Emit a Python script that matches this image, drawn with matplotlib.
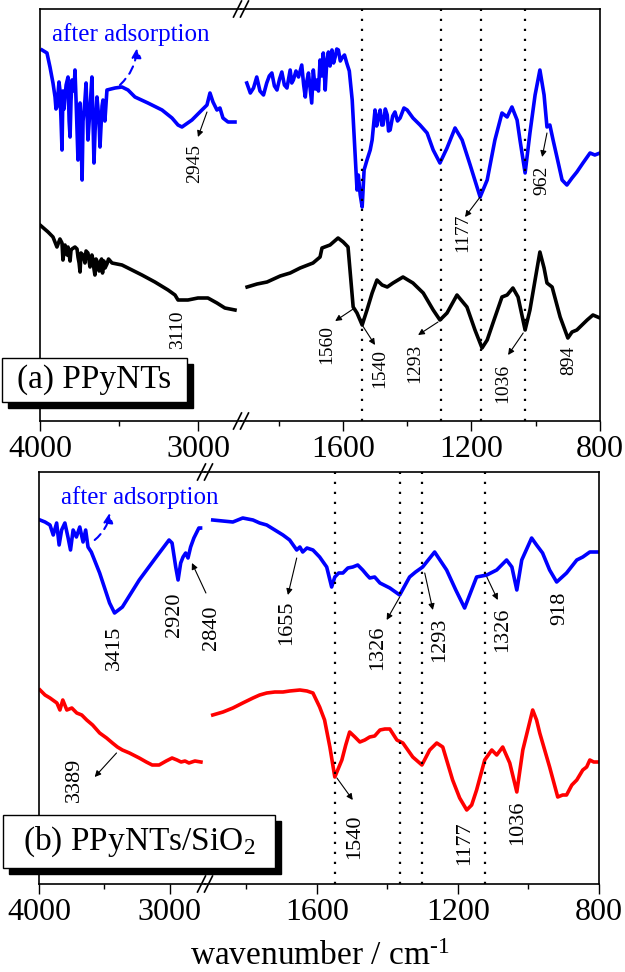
import numpy as np
import matplotlib
matplotlib.use('Agg')
import matplotlib.pyplot as plt
from matplotlib.lines import Line2D
from matplotlib.patches import Rectangle

plt.rcParams['font.family'] = ['Liberation Serif', 'DejaVu Serif']
plt.rcParams['mathtext.fontset'] = 'custom'
plt.rcParams['mathtext.rm'] = 'Liberation Serif'
plt.rcParams['mathtext.default'] = 'regular'

# ---------------- data (wavenumber / cm-1, transmittance in a.u.) ----------------
# panel (a) PPyNTs after adsorption (blue), high wavenumber part
a_blue_hi_wn = [3987, 3956, 3937, 3918, 3905, 3899, 3893, 3880, 3874, 3867, 3861, 3855, 3848, 3842, 3835,
                3823, 3816, 3810, 3804, 3798, 3785, 3779, 3772, 3766, 3760, 3753, 3747, 3740, 3734, 3728,
                3716, 3709, 3697, 3685, 3672, 3665, 3659, 3652, 3640, 3627, 3621, 3608, 3602, 3590, 3577,
                3526, 3482, 3444, 3400, 3318, 3229, 3166, 3128, 3103, 3040, 2977, 2945, 2926, 2907, 2882,
                2863, 2844, 2812, 2768]
a_blue_hi = [371, 368, 354, 338, 324, 312, 314, 339, 331, 300, 271, 330, 312, 324, 336,
             344, 300, 284, 320, 341, 330, 351, 320, 291, 261, 300, 318, 280, 241, 300,
             321, 338, 281, 310, 344, 300, 258, 290, 324, 300, 274, 315, 321, 300, 331,
             333, 334, 331, 324, 318, 311, 303, 296, 294, 301, 311, 316, 328, 319, 311,
             313, 303, 299, 299]
# low wavenumber part
a_blue_lo_wn = [1899, 1888, 1878, 1868, 1858, 1847, 1837, 1829, 1821, 1813, 1805, 1797, 1790, 1782, 1774,
                1764, 1759, 1754, 1746, 1738, 1728, 1722, 1717, 1712, 1707, 1697, 1692, 1686, 1681, 1676,
                1671, 1666, 1661, 1655, 1650, 1645, 1640, 1634, 1629, 1624, 1619, 1614, 1608, 1603, 1595,
                1588, 1580, 1571, 1561, 1556, 1552, 1546, 1540, 1534, 1525, 1515, 1509, 1500, 1495, 1490,
                1484, 1479, 1475, 1468, 1462, 1458, 1453, 1445, 1438, 1430, 1422, 1410, 1400, 1382, 1360,
                1338, 1319, 1298, 1276, 1251, 1229, 1204, 1173, 1151, 1127, 1105, 1089, 1074, 1058, 1049,
                1033, 1018, 1002, 987, 974, 965, 956, 946, 934, 918, 903, 887, 872, 853, 831,
                816, 800]
a_blue_lo = [338, 328, 333, 344, 330, 326, 338, 345, 348, 335, 331, 342, 349, 336, 333,
             351, 338, 341, 350, 344, 356, 336, 324, 340, 348, 318, 351, 332, 341, 330,
             361, 345, 368, 331, 360, 369, 355, 371, 358, 364, 372, 371, 360, 363, 366,
             358, 350, 321, 261, 231, 246, 226, 214, 251, 261, 271, 281, 311, 295, 303,
             311, 296, 296, 312, 306, 290, 291, 305, 309, 300, 303, 313, 311, 303, 296,
             288, 271, 258, 273, 293, 281, 256, 224, 241, 281, 308, 304, 314, 301, 281,
             248, 288, 326, 351, 326, 294, 296, 281, 264, 241, 236, 243, 249, 258, 268,
             266, 268]

# panel (a) PPyNTs before adsorption (black)
a_black_hi_wn = [4000, 3949, 3918, 3893, 3874, 3861, 3855, 3848, 3842, 3829, 3823, 3810, 3804, 3798, 3779,
                 3766, 3760, 3753, 3747, 3741, 3728, 3716, 3709, 3697, 3690, 3684, 3672, 3665, 3659, 3653,
                 3646, 3640, 3627, 3621, 3611, 3605, 3596, 3589, 3577, 3567, 3545, 3482, 3444, 3356, 3274,
                 3191, 3147, 3128, 3065, 3002, 2939, 2882, 2832, 2768]
a_black_hi = [196, 189, 184, 174, 182, 178, 161, 170, 176, 166, 174, 160, 171, 172, 174,
              172, 164, 158, 149, 168, 166, 158, 170, 168, 160, 154, 166, 161, 152, 146,
              162, 160, 150, 158, 162, 148, 160, 153, 157, 162, 158, 156, 153, 146, 139,
              131, 126, 121, 121, 123, 123, 118, 113, 111]
a_black_lo_wn = [1898, 1867, 1836, 1795, 1764, 1733, 1693, 1671, 1665, 1640, 1615, 1599, 1584, 1568, 1556,
                 1540, 1525, 1509, 1494, 1478, 1462, 1444, 1413, 1382, 1350, 1319, 1298, 1276, 1245, 1214,
                 1189, 1167, 1151, 1133, 1105, 1089, 1071, 1055, 1033, 1018, 1002, 987, 974, 965, 949,
                 924, 900, 887, 872, 840, 822, 800]
a_black_lo = [134, 137, 139, 145, 148, 153, 158, 164, 173, 176, 183, 179, 174, 114, 108,
              96, 111, 128, 141, 136, 134, 138, 144, 138, 128, 111, 101, 108, 126, 114,
              91, 73, 81, 98, 124, 126, 133, 124, 91, 111, 141, 169, 153, 138, 134,
              104, 83, 89, 91, 101, 106, 103]

# panel (b) PPyNTs/SiO2 after adsorption (blue)
b_blue_hi_wn = [3992, 3954, 3916, 3891, 3865, 3846, 3827, 3802, 3777, 3759, 3739, 3714, 3688, 3663, 3643,
                3625, 3600, 3536, 3460, 3422, 3362, 3233, 3103, 3005, 2982, 2954, 2936, 2916, 2898, 2878,
                2860, 2840, 2815, 2777, 2764]
b_blue_hi = [364, 362, 359, 349, 361, 339, 354, 361, 346, 334, 354, 347, 357, 342, 354,
             337, 332, 311, 281, 271, 277, 304, 327, 344, 341, 317, 304, 321, 327, 331,
             326, 337, 346, 356, 356]
b_blue_lo_wn = [1895, 1838, 1810, 1781, 1762, 1742, 1719, 1696, 1677, 1657, 1648, 1640, 1628, 1611, 1592,
                1572, 1558, 1549, 1538, 1526, 1512, 1498, 1484, 1470, 1458, 1450, 1436, 1421, 1393, 1365,
                1337, 1320, 1300, 1266, 1232, 1206, 1181, 1147, 1118, 1090, 1062, 1047, 1033, 1019, 991,
                977, 960, 940, 920, 892, 863, 846, 826, 804]
b_blue_lo = [364, 362, 366, 364, 361, 359, 354, 349, 344, 334, 337, 332, 336, 334, 327,
             317, 297, 307, 311, 311, 316, 317, 319, 314, 309, 306, 307, 301, 296, 289,
             307, 312, 317, 332, 314, 294, 276, 307, 309, 314, 324, 317, 294, 324, 346,
             339, 331, 314, 302, 311, 324, 327, 332, 332]

# panel (b) PPyNTs/SiO2 before adsorption (red)
b_red_hi_wn = [3992, 3954, 3916, 3863, 3840, 3818, 3787, 3749, 3711, 3673, 3635, 3590, 3536, 3483, 3438,
               3400, 3362, 3308, 3233, 3179, 3134, 3081, 3027, 2982, 2944, 2913, 2883, 2853, 2807, 2761]
b_red_hi = [194, 189, 186, 181, 174, 184, 174, 176, 171, 169, 164, 159, 151, 146, 141,
            137, 134, 131, 126, 122, 119, 119, 123, 126, 124, 122, 123, 121, 123, 122]
b_red_lo_wn = [1895, 1866, 1838, 1810, 1781, 1762, 1742, 1719, 1696, 1677, 1648, 1628, 1611, 1592, 1578,
               1563, 1549, 1529, 1518, 1507, 1492, 1478, 1464, 1450, 1436, 1421, 1407, 1393, 1373, 1356,
               1328, 1302, 1280, 1260, 1243, 1215, 1195, 1175, 1161, 1147, 1124, 1104, 1090, 1073, 1053,
               1033, 1016, 1002, 988, 977, 968, 954, 940, 917, 903, 892, 877, 863, 846, 835,
               826, 815, 804]
b_red_lo = [169, 172, 176, 181, 186, 189, 191, 192, 192, 193, 194, 193, 191, 177, 164,
            137, 107, 124, 139, 152, 147, 142, 144, 147, 148, 154, 155, 155, 144, 141,
            127, 119, 134, 141, 137, 104, 86, 74, 79, 94, 124, 134, 129, 137, 121,
            92, 134, 154, 174, 164, 151, 134, 117, 87, 89, 89, 99, 104, 114, 117,
            124, 122, 122]

# marker lines
a_vlines = [1540, 1296, 1170, 1032]
b_vlines = [1549, 1363, 1303, 1123]

# peak labels: (text, label x, label y, arrow tail, arrow tip)
a_hi_labels = [("2945", 3021, 258, (2945, 309), (3002, 284)),
               ("3110", 3128, 91, None, None)]
a_lo_labels = [("1560", 1649, 76, (1568, 112), (1624, 100)),
               ("1540", 1484, 53, (1540, 96), (1500, 76)),
               ("1293", 1375, 58, (1304, 99), (1366, 86)),
               ("1177", 1226, 188, (1173, 224), (1220, 204)),
               ("1036", 1102, 38, (1039, 88), (1086, 66)),
               ("894", 896, 61, None, None),
               ("962", 980, 241, (965, 288), (980, 264))]
b_hi_labels = [("3415", 3422, 236, None, None),
               ("2920", 2967, 269, None, None),
               ("2840", 2678, 256, (2723, 291), (2830, 321)),
               ("3389", 3726, 104, (3407, 131), (3574, 107))]
b_lo_labels = [("1655", 1685, 261, (1657, 326), (1682, 289)),
               ("1326", 1427, 236, (1365, 287), (1402, 264)),
               ("1293", 1251, 244, (1294, 311), (1271, 274)),
               ("1326", 1073, 254, (1118, 307), (1087, 284)),
               ("918", 911, 276, None, None),
               ("1540", 1493, 47, (1543, 106), (1498, 84)),
               ("1177", 1180, 41, None, None),
               ("1036", 1030, 61, None, None)]

# ---------------- figure ----------------
W, H = 625, 972
fig = plt.figure(figsize=(W / 100, H / 100), dpi=100)


def fx(px):
    return px / W


def fy(py):
    return 1 - py / H


def make_pair(x0, xs, x1, top, bot):
    h = (bot - top) / H
    hi = fig.add_axes([fx(x0), fy(bot), fx(xs - x0), h])
    lo = fig.add_axes([fx(xs), fy(bot), fx(x1 - xs), h])
    hi.set_xlim(4000, 2730)
    lo.set_xlim(1917, 800)
    for ax in (hi, lo):
        ax.set_ylim(0, 412)
        ax.set_facecolor('none')
        ax.set_yticks([])
        ax.tick_params(axis='x', which='major', direction='out', length=7, width=1,
                       labelsize=23, pad=3)
        ax.tick_params(axis='x', which='minor', direction='out', length=3.5, width=1)
        for s in ax.spines.values():
            s.set_linewidth(1.2)
    hi.spines['right'].set_visible(False)
    lo.spines['left'].set_visible(False)
    hi.set_xticks([4000, 3000])
    hi.set_xticks([3500], minor=True)
    lo.set_xticks([1600, 1200, 800])
    lo.set_xticks([1800, 1400, 1000], minor=True)
    # break marks
    for y in (top, bot):
        for d in (-3.5, 3.5):
            fig.add_artist(Line2D([fx(xs + d - 4), fx(xs + d + 4)], [fy(y + 8), fy(y - 8)],
                                  color='k', lw=1.2))
    return hi, lo


def peaks(ax, labels, size):
    for txt, tx, ty, tail, tip in labels:
        ax.text(tx, ty, txt, rotation=90, ha='center', va='center', fontsize=size)
        if tail is not None:
            ax.annotate('', xy=tip, xytext=tail, annotation_clip=False,
                        arrowprops=dict(arrowstyle='-|>', color='k', lw=0.8,
                                        mutation_scale=9, shrinkA=0, shrinkB=0))


def box(x0, y0, x1, y1, txt):
    fig.add_artist(Rectangle((fx(x0 + 6), fy(y1 + 6)), fx(x1 - x0), (y1 - y0) / H,
                             transform=fig.transFigure, facecolor='k', edgecolor='k'))
    fig.add_artist(Rectangle((fx(x0), fy(y1)), fx(x1 - x0), (y1 - y0) / H,
                             transform=fig.transFigure, facecolor='white', edgecolor='k', lw=1))
    fig.text(fx((x0 + x1) / 2), fy((y0 + y1) / 2), txt, ha='center', va='center', fontsize=24)


def after_label(ax, tx, ty, tail, tip):
    ax.text(tx, ty, 'after adsorption', color='blue', fontsize=18, ha='center', va='center')
    ax.annotate('', xy=tip, xytext=tail, annotation_clip=False,
                arrowprops=dict(arrowstyle='-|>', ls=(0, (4, 3)), color='blue', lw=1.5,
                                mutation_scale=14, shrinkA=0, shrinkB=0,
                                connectionstyle='arc3,rad=0.2'))


lw = 2.6
# panel (a)
a_hi, a_lo = make_pair(40, 241, 600, 9, 421)
a_hi.plot(a_blue_hi_wn, a_blue_hi, color='blue', lw=lw)
a_hi.plot(a_black_hi_wn, a_black_hi, color='black', lw=lw)
a_lo.plot(a_blue_lo_wn, a_blue_lo, color='blue', lw=lw)
a_lo.plot(a_black_lo_wn, a_black_lo, color='black', lw=lw)
for v in a_vlines:
    a_lo.axvline(v, color='k', ls=(0, (1, 3.5)), lw=1.6)
peaks(a_hi, a_hi_labels, 14)
peaks(a_lo, a_lo_labels, 14)
after_label(a_hi, 3425, 386, (3495, 336), (3387, 373))

# panel (b)
b_hi, b_lo = make_pair(39, 205, 599, 472, 884)
b_hi.plot(b_blue_hi_wn, b_blue_hi, color='blue', lw=lw)
b_hi.plot(b_red_hi_wn, b_red_hi, color='red', lw=lw)
b_lo.plot(b_blue_lo_wn, b_blue_lo, color='blue', lw=lw)
b_lo.plot(b_red_lo_wn, b_red_lo, color='red', lw=lw)
for v in b_vlines:
    b_lo.axvline(v, color='k', ls=(0, (1, 3.5)), lw=1.6)
peaks(b_hi, b_hi_labels, 16)
peaks(b_lo, b_lo_labels, 16)
after_label(b_hi, 3233, 386, (3574, 344), (3460, 371))

box(2, 358, 187, 402, '(a) PPyNTs')
box(3, 815, 275, 868, r'(b) PPyNTs/SiO$_2$')

fig.text(fx(320), fy(957), r'wavenumber / cm$^{\text{-}1}$', ha='center', va='center', fontsize=24)

fig.savefig('out.png', dpi=100)
